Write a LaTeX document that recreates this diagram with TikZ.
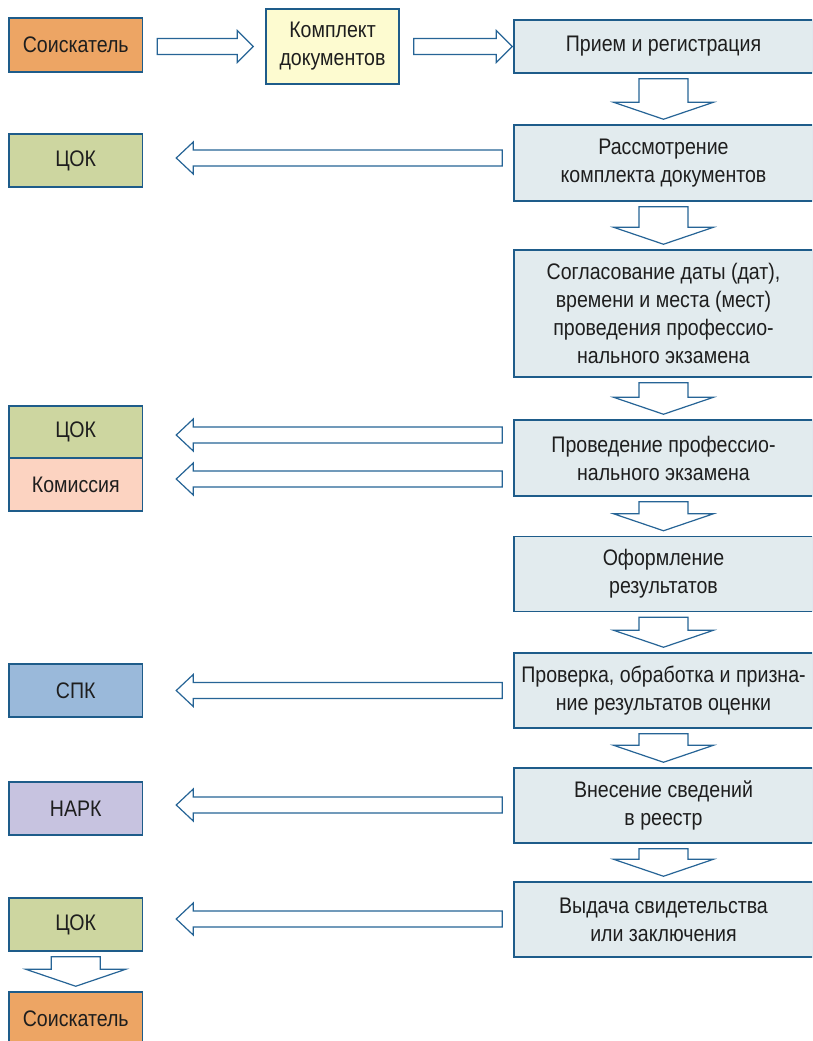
\documentclass[tikz,border=0pt]{standalone}
\usepackage{fontspec}
\setmainfont{Liberation Sans}[FakeStretch=0.87]
\usetikzlibrary{calc}
\definecolor{bordc}{RGB}{30,92,138}
\definecolor{arrc}{RGB}{38,100,150}
\definecolor{orangec}{RGB}{237,165,100}
\definecolor{yellowc}{RGB}{253,251,208}
\definecolor{rightc}{RGB}{226,235,238}
\definecolor{greenc}{RGB}{205,214,160}
\definecolor{pinkc}{RGB}{252,211,193}
\definecolor{spkc}{RGB}{154,185,218}
\definecolor{narkc}{RGB}{199,195,224}
\definecolor{txtc}{RGB}{30,30,30}
\newcommand\dnarrow[2]{%
 \draw[blockarrow] let \p1=(#1.south), \p2=(#2.north) in
 (\x1-24.5pt,\y1-5pt) -- (\x1+24.5pt,\y1-5pt) -- (\x1+24.5pt,\y2+22pt) -- (\x1+50pt,\y2+22pt) -- (\x1,\y2+5pt) -- (\x1-50pt,\y2+22pt) -- (\x1-24.5pt,\y2+22pt) -- cycle;}
\newcommand\lfarrow[3]{%
 \draw[blockarrow] let \p1=(#1.west), \p2=(#2.east), \p3=(0,#3) in
 (\x1-11pt,\y3+8pt) -- (\x2+50pt,\y3+8pt) -- (\x2+50pt,\y3+16pt) -- (\x2+33pt,\y3) -- (\x2+50pt,\y3-16pt) -- (\x2+50pt,\y3-8pt) -- (\x1-11pt,\y3-8pt) -- cycle;}
\newcommand\rtarrow[3]{%
 \draw[blockarrow] let \p1=(#1.east), \p2=(#2.west) in
 (\x1+14pt,\y2+8pt) -- (\x2-#3-16pt,\y2+8pt) -- (\x2-#3-16pt,\y2+16pt) -- (\x2-#3,\y2) -- (\x2-#3-16pt,\y2-16pt) -- (\x2-#3-16pt,\y2-8pt) -- (\x1+14pt,\y2-8pt) -- cycle;}
\begin{document}
\begin{tikzpicture}[x=1pt,y=-1pt,
  box/.style={draw=bordc,line width=1.5pt,inner sep=0pt,align=center,text=txtc,
    font=\fontsize{22.5}{28}\selectfont},
  rbox/.style={box,fill=rightc,minimum width=299pt},
  lbox/.style={box,minimum width=133.5pt,minimum height=53pt},
  blockarrow/.style={draw=arrc,line width=1.2pt,fill=white,line join=miter}]
\useasboundingbox (0,0) rectangle (812,1041);
\clip (0,0) rectangle (812,1041);
\fill[white] (0,0) rectangle (812,1041);
% right column
\node[rbox,minimum height=53pt] (r1) at (663.5,46.5) {Прием и регистрация};
\node[rbox,minimum height=76pt] (r2) at (663.5,163) {Рассмотрение\\комплекта документов};
\node[rbox,minimum height=127pt] (r3) at (663.5,313.5) {Согласование даты (дат),\\времени и места (мест)\\проведения профессио-\\нального экзамена};
\node[rbox,minimum height=76pt] (r4) at (663.5,458) {Проведение профессио-\\нального экзамена};
\node[rbox,minimum height=75pt] (r5) at (663.5,574) {Оформление\\результатов};
\node[rbox,minimum height=75pt] (r6) at (663.5,690.5) {Проверка, обработка и призна-\\ние результатов оценки};
\node[rbox,minimum height=75pt] (r7) at (663.5,805.5) {Внесение сведений\\в реестр};
\node[rbox,minimum height=75pt] (r8) at (663.5,919.5) {Выдача свидетельства\\или заключения};
% left column
\node[lbox,fill=orangec,minimum height=54pt] (s1) at (75.75,45) {Соискатель};
\node[box,fill=yellowc,minimum width=133pt,minimum height=75pt] (kd) at (332.5,46.5) {Комплект\\документов};
\node[lbox,fill=greenc] (c1) at (75.75,160.5) {ЦОК};
\node[lbox,fill=greenc,minimum height=52pt] (c2) at (75.75,432) {ЦОК};
\node[lbox,fill=pinkc] (km) at (75.75,484.5) {Комиссия};
\node[lbox,fill=spkc] (spk) at (75.75,690.5) {СПК};
\node[lbox,fill=narkc] (nark) at (75.75,808.5) {НАРК};
\node[lbox,fill=greenc] (c3) at (75.75,924.5) {ЦОК};
\node[lbox,fill=orangec] (s2) at (75.75,1018.5) {Соискатель};
% arrows
\rtarrow{s1}{kd}{12pt}
\rtarrow{kd}{r1}{1pt}
\dnarrow{r1}{r2}
\dnarrow{r2}{r3}
\dnarrow{r3}{r4}
\dnarrow{r4}{r5}
\dnarrow{r5}{r6}
\dnarrow{r6}{r7}
\dnarrow{r7}{r8}
\lfarrow{r2}{c1}{158}
\lfarrow{r4}{c2}{435}
\lfarrow{r4}{km}{479}
\lfarrow{r6}{spk}{690.5}
\lfarrow{r7}{nark}{805}
\lfarrow{r8}{c3}{919}
\dnarrow{c3}{s2}
\end{tikzpicture}
\end{document}
